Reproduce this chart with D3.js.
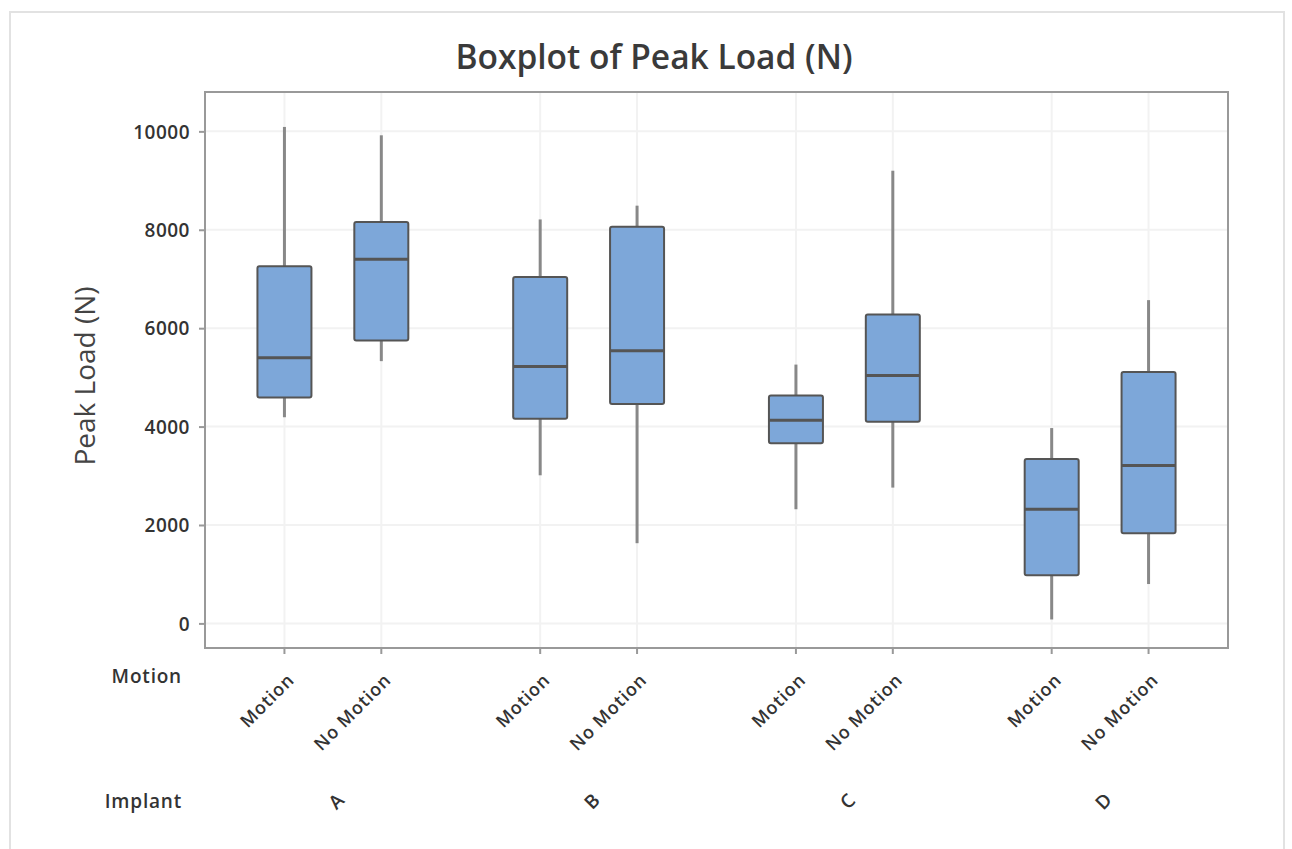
<!DOCTYPE html>
<html>
<head>
<meta charset="utf-8">
<script src="https://cdn.jsdelivr.net/npm/d3@7"></script>
<style>
  body { margin: 0; background: #fff; }
  svg { display: block; font-family: "Open Sans", "Noto Sans", sans-serif; }
</style>
</head>
<body>
<svg id="chart" width="1292" height="849"></svg>
<script>
///////////////////////////////////////////////////////////
// Data
const implants = ["A", "B", "C", "D"];
const motions = ["Motion", "No Motion"];
// one entry per implant, ordered Motion, No Motion
const whiskerLow = [[4190, 5330], [3010, 1630], [2320, 2760], [80, 800]];
const q1 = [[4590, 5750], [4160, 4460], [3660, 4100], [980, 1830]];
const median = [[5400, 7400], [5220, 5540], [4130, 5040], [2320, 3210]];
const q3 = [[7260, 8160], [7040, 8060], [4630, 6280], [3340, 5110]];
const whiskerHigh = [[10090, 9920], [8210, 8490], [5260, 9200], [3970, 6570]];
const yTicks = [0, 2000, 4000, 6000, 8000, 10000];

const boxes = [];
implants.forEach((imp, i) => {
  motions.forEach((m, j) => {
    boxes.push({
      implant: imp, motion: m,
      lo: whiskerLow[i][j], q1: q1[i][j], med: median[i][j],
      q3: q3[i][j], hi: whiskerHigh[i][j]
    });
  });
});

///////////////////////////////////////////////////////////
// Layout
const svg = d3.select("#chart");
const plot = { left: 205, right: 1228, top: 92, bottom: 648 };
const boxW = 54;
const textColor = "#333";

const xGroup = d3.scaleBand()
  .domain(implants)
  .range([plot.left, plot.right]);

const xInner = d3.scalePoint()
  .domain(motions)
  .range([0, xGroup.bandwidth()])
  .padding(0.82);

const xPos = d => xGroup(d.implant) + xInner(d.motion);

const y = d3.scaleLinear()
  .domain([-500, 10800])
  .range([plot.bottom, plot.top]);

// outer frame
svg.append("rect")
  .attr("x", 10).attr("y", 12)
  .attr("width", 1274).attr("height", 850)
  .attr("fill", "none")
  .attr("stroke", "#e2e2e2")
  .attr("stroke-width", 2);

// title
svg.append("text")
  .attr("x", 654).attr("y", 69)
  .attr("text-anchor", "middle")
  .attr("font-size", 33.5)
  .attr("font-weight", 600)
  .attr("fill", "#3a3a3a")
  .text("Boxplot of Peak Load (N)");

///////////////////////////////////////////////////////////
// Gridlines
svg.append("g")
  .selectAll("line")
  .data(yTicks)
  .join("line")
  .attr("x1", plot.left).attr("x2", plot.right)
  .attr("y1", d => y(d)).attr("y2", d => y(d))
  .attr("stroke", "#f2f2f2")
  .attr("stroke-width", 2);

svg.append("g")
  .selectAll("line")
  .data(boxes)
  .join("line")
  .attr("x1", xPos).attr("x2", xPos)
  .attr("y1", plot.top).attr("y2", plot.bottom)
  .attr("stroke", "#f2f2f2")
  .attr("stroke-width", 2);

///////////////////////////////////////////////////////////
// Axes
const yAxis = svg.append("g")
  .attr("transform", `translate(${plot.left},0)`)
  .call(d3.axisLeft(y).tickValues(yTicks).tickSize(6).tickPadding(9).tickFormat(d3.format("d")));
yAxis.attr("font-family", null);
yAxis.select(".domain").remove();
yAxis.selectAll(".tick line").attr("stroke", "#999").attr("stroke-width", 2);
yAxis.selectAll("text")
  .attr("font-size", 19)
  .attr("font-weight", 600)
  .attr("letter-spacing", 0.5)
  .attr("dy", "0.35em")
  .attr("fill", textColor);

const xAxis = svg.append("g")
  .attr("transform", `translate(0,${plot.bottom})`);
xAxis.selectAll("line")
  .data(boxes)
  .join("line")
  .attr("x1", xPos).attr("x2", xPos)
  .attr("y1", 0).attr("y2", 6)
  .attr("stroke", "#999")
  .attr("stroke-width", 2);

xAxis.selectAll("text.motion")
  .data(boxes)
  .join("text")
  .attr("class", "motion")
  .attr("transform", d => `translate(${xPos(d) + 11},${33}) rotate(-45)`)
  .attr("text-anchor", "end")
  .attr("font-size", 18)
  .attr("font-weight", 600)
  .attr("letter-spacing", 0.9)
  .attr("fill", textColor)
  .text(d => d.motion);

xAxis.selectAll("text.implant")
  .data(implants)
  .join("text")
  .attr("class", "implant")
  .attr("transform", d => `translate(${xGroup(d) + xGroup.bandwidth() / 2 + 8},${158}) rotate(-45)`)
  .attr("text-anchor", "middle")
  .attr("font-size", 19)
  .attr("font-weight", 600)
  .attr("fill", textColor)
  .text(d => d);

// row labels
svg.append("text")
  .attr("x", 182).attr("y", 683)
  .attr("text-anchor", "end")
  .attr("font-size", 19).attr("font-weight", 600)
  .attr("letter-spacing", 0.8)
  .attr("fill", textColor)
  .text("Motion");
svg.append("text")
  .attr("x", 182).attr("y", 808)
  .attr("text-anchor", "end")
  .attr("font-size", 19).attr("font-weight", 600)
  .attr("letter-spacing", 0.8)
  .attr("fill", textColor)
  .text("Implant");

// y axis title
svg.append("text")
  .attr("transform", `translate(95,${(plot.top + plot.bottom) / 2 + 6}) rotate(-90)`)
  .attr("text-anchor", "middle")
  .attr("font-size", 28)
  .attr("font-weight", 500)
  .attr("fill", "#444")
  .text("Peak Load (N)");

///////////////////////////////////////////////////////////
// Boxes
const g = svg.append("g");

g.selectAll("line.whisker-hi")
  .data(boxes)
  .join("line")
  .attr("class", "whisker-hi")
  .attr("x1", xPos).attr("x2", xPos)
  .attr("y1", d => y(d.hi)).attr("y2", d => y(d.q3))
  .attr("stroke", "#888").attr("stroke-width", 3);

g.selectAll("line.whisker-lo")
  .data(boxes)
  .join("line")
  .attr("class", "whisker-lo")
  .attr("x1", xPos).attr("x2", xPos)
  .attr("y1", d => y(d.q1)).attr("y2", d => y(d.lo))
  .attr("stroke", "#888").attr("stroke-width", 3);

g.selectAll("rect.box")
  .data(boxes)
  .join("rect")
  .attr("class", "box")
  .attr("x", d => xPos(d) - boxW / 2)
  .attr("y", d => y(d.q3))
  .attr("width", boxW)
  .attr("height", d => y(d.q1) - y(d.q3))
  .attr("rx", 2)
  .attr("fill", "#7da7d9")
  .attr("stroke", "#555")
  .attr("stroke-width", 2);

g.selectAll("line.median")
  .data(boxes)
  .join("line")
  .attr("class", "median")
  .attr("x1", d => xPos(d) - boxW / 2).attr("x2", d => xPos(d) + boxW / 2)
  .attr("y1", d => y(d.med)).attr("y2", d => y(d.med))
  .attr("stroke", "#555").attr("stroke-width", 3);

// plot frame
svg.append("rect")
  .attr("x", plot.left).attr("y", plot.top)
  .attr("width", plot.right - plot.left)
  .attr("height", plot.bottom - plot.top)
  .attr("fill", "none")
  .attr("stroke", "#999")
  .attr("stroke-width", 2);
</script>
</body>
</html>
